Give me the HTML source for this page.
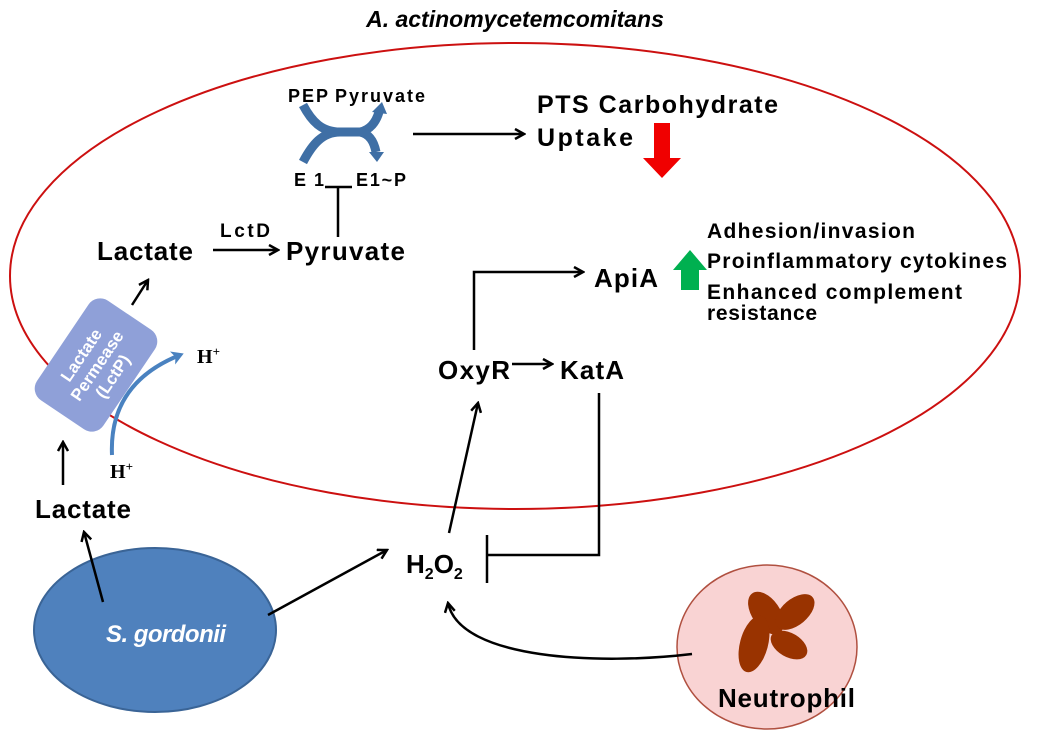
<!DOCTYPE html>
<html><head><meta charset="utf-8"><style>
html,body{margin:0;padding:0;background:#fff;}
svg{display:block;font-family:"Liberation Sans",sans-serif;font-weight:bold;}
</style></head><body>
<svg width="1050" height="750" viewBox="0 0 1050 750" xmlns="http://www.w3.org/2000/svg">
<defs>
<marker id="a" markerWidth="12" markerHeight="12" refX="10" refY="6" orient="auto" markerUnits="userSpaceOnUse">
<path d="M1,1 L10,6 L1,11" fill="none" stroke="#000" stroke-width="2.5"/></marker>
<marker id="b" markerWidth="14" markerHeight="14" refX="8" refY="7" orient="auto" markerUnits="userSpaceOnUse">
<path d="M0,0 L12,7 L0,14 L3,7z" fill="#4a82c0"/></marker>
</defs>
<text x="515" y="27" font-size="23" font-style="italic" text-anchor="middle">A. actinomycetemcomitans</text>
<ellipse cx="515" cy="276" rx="505" ry="233" fill="none" stroke="#cc1010" stroke-width="2"/>

<!-- PEP cross -->
<path d="M303,105 C312,122 322,132 340,132 L360,132 C370,130 376,122 379,112" fill="none" stroke="#3f6fa5" stroke-width="9"/>
<path d="M303,162 C312,145 322,132 340,132 L360,132 C370,134 374,142 376,152" fill="none" stroke="#3f6fa5" stroke-width="9"/>
<path d="M372,112 L382,102 L387,114z M369,152 L384,152 L377,162z" fill="#3f6fa5"/>
<text x="288" y="102" font-size="18" textLength="40">PEP</text>
<text x="335" y="102" font-size="18" textLength="90">Pyruvate</text>
<text x="294" y="186" font-size="18" textLength="30">E1</text>
<text x="356" y="186" font-size="18" textLength="50">E1~P</text>
<line x1="325" y1="187" x2="352" y2="187" stroke="#000" stroke-width="2.5"/>
<line x1="338" y1="187" x2="338" y2="237" stroke="#000" stroke-width="2.5"/>

<line x1="413" y1="134" x2="524" y2="134" stroke="#000" stroke-width="2.5" marker-end="url(#a)"/>
<text x="537" y="113" font-size="25" textLength="241">PTS Carbohydrate</text>
<text x="537" y="146" font-size="25" textLength="96">Uptake</text>
<path d="M654,123 H670 V158 H681 L662,178 L643,158 H654z" fill="#f00000"/>

<text x="97" y="260" font-size="26" textLength="96">Lactate</text>
<line x1="213" y1="250" x2="278" y2="250" stroke="#000" stroke-width="2.5" marker-end="url(#a)"/>
<text x="220" y="237" font-size="19" textLength="50">LctD</text>
<text x="286" y="260" font-size="26" textLength="119">Pyruvate</text>

<path d="M681,290 V270 H673 L690,250 L707,270 H699 V290z" fill="#00b050"/>
<text x="707" y="238" font-size="21" textLength="208">Adhesion/invasion</text>
<text x="707" y="268" font-size="21" textLength="300">Proinflammatory cytokines</text>
<text x="707" y="299" font-size="21" textLength="255">Enhanced complement</text>
<text x="707" y="320" font-size="21" textLength="110">resistance</text>

<text x="594" y="287" font-size="26" textLength="64">ApiA</text>
<path d="M474,350 V272 H583" fill="none" stroke="#000" stroke-width="2.5" marker-end="url(#a)"/>
<text x="438" y="379" font-size="26" textLength="72">OxyR</text>
<line x1="512" y1="364" x2="552" y2="364" stroke="#000" stroke-width="2.5" marker-end="url(#a)"/>
<text x="560" y="379" font-size="26" textLength="64">KatA</text>

<text x="406" y="573" font-size="26">H<tspan font-size="16" dy="6">2</tspan><tspan dy="-6">O</tspan><tspan font-size="16" dy="6">2</tspan></text>
<line x1="449" y1="533" x2="478" y2="403" stroke="#000" stroke-width="2.5" marker-end="url(#a)"/>
<path d="M599,393 V555 H488" fill="none" stroke="#000" stroke-width="2.5"/>
<line x1="487" y1="535" x2="487" y2="583" stroke="#000" stroke-width="2.5"/>

<!-- permease -->
<g transform="translate(96,365) rotate(34)">
<rect x="-40" y="-60" width="80" height="120" rx="14" fill="#8fa0d8"/>
<g fill="#fff" font-size="17" text-anchor="middle" transform="rotate(-90)">
<text x="0" y="-12">Lactate</text><text x="0" y="7">Permease</text><text x="0" y="26">(LctP)</text></g>
</g>
<line x1="132" y1="305" x2="148" y2="280" stroke="#000" stroke-width="2.5" marker-end="url(#a)"/>
<path d="M112,455 C110,410 130,375 180,355" fill="none" stroke="#4a82c0" stroke-width="4" marker-end="url(#b)"/>
<text x="197" y="363" font-size="20" font-family="Liberation Serif,serif">H<tspan font-size="13" dy="-7">+</tspan></text>
<text x="110" y="478" font-size="20" font-family="Liberation Serif,serif">H<tspan font-size="13" dy="-7">+</tspan></text>
<line x1="63" y1="485" x2="63" y2="442" stroke="#000" stroke-width="2.5" marker-end="url(#a)"/>
<text x="35" y="518" font-size="26" textLength="96">Lactate</text>

<ellipse cx="155" cy="630" rx="121" ry="82" fill="#4f81bd" stroke="#3a6496" stroke-width="2"/>
<text x="106" y="642" font-size="24" fill="#fff" font-style="italic" textLength="120">S. gordonii</text>
<line x1="103" y1="602" x2="84" y2="532" stroke="#000" stroke-width="2.5" marker-end="url(#a)"/>
<line x1="268" y1="615" x2="387" y2="550" stroke="#000" stroke-width="2.5" marker-end="url(#a)"/>

<ellipse cx="767" cy="647" rx="90" ry="82" fill="#f9d3d3" stroke="#b05040" stroke-width="1.5"/>
<g fill="#993300">
<ellipse cx="766" cy="613" rx="14" ry="24" transform="rotate(-35 766 613)"/>
<ellipse cx="795" cy="612" rx="13" ry="23" transform="rotate(50 795 612)"/>
<ellipse cx="754" cy="644" rx="14" ry="29" transform="rotate(15 754 644)"/>
<ellipse cx="789" cy="645" rx="12" ry="20" transform="rotate(-60 789 645)"/>
</g>
<text x="718" y="707" font-size="26" textLength="137">Neutrophil</text>
<path d="M692,654 C600,665 460,660 448,603" fill="none" stroke="#000" stroke-width="2.5" marker-end="url(#a)"/>
</svg>
</body></html>
